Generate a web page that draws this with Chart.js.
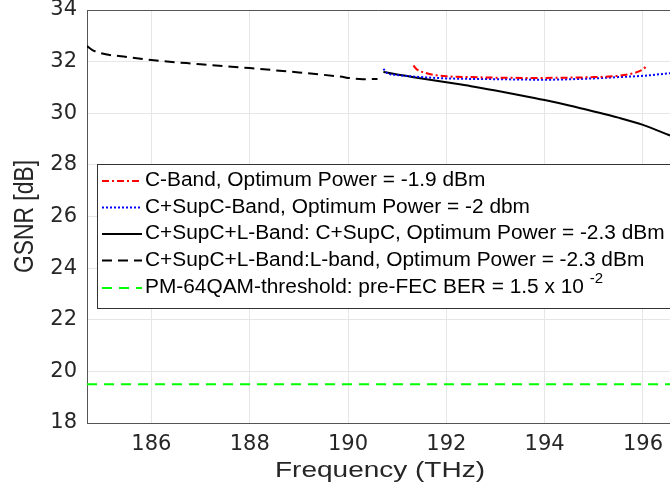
<!DOCTYPE html>
<html>
<head>
<meta charset="utf-8">
<script src="https://cdn.jsdelivr.net/npm/chart.js@4.4.1/dist/chart.umd.min.js"></script>
<style>
  html, body { margin: 0; padding: 0; background: #fff; }
  #wrap { width: 670px; height: 491px; overflow: hidden; }
</style>
</head>
<body>
<div id="wrap"><canvas id="gsnrChart" width="670" height="491"></canvas></div>
<script>
// tick values
const xTicks = [186, 188, 190, 192, 194, 196];
const yTicks = [18, 20, 22, 24, 26, 28, 30, 32, 34];

// C-Band, optimum power -1.9 dBm
const cBandFreq = [191.33, 191.4, 191.6, 191.8, 192.0, 192.5, 193.0, 193.5, 194.0, 194.5, 195.0, 195.5, 195.8, 196.0, 196.08];
const cBandGsnr = [31.85, 31.7, 31.55, 31.47, 31.43, 31.4, 31.38, 31.37, 31.37, 31.38, 31.4, 31.45, 31.55, 31.7, 31.85];

// C+SupC-Band, optimum power -2 dBm
const supCFreq = [190.72, 190.8, 191.0, 191.5, 192.0, 193.0, 194.0, 195.0, 195.5, 196.0, 196.55];
const supCGsnr = [31.72, 31.55, 31.48, 31.4, 31.35, 31.32, 31.3, 31.35, 31.4, 31.45, 31.55];

// C+SupC+L-Band, C+SupC part
const cslCFreq = [190.72, 191.0, 191.5, 192.0, 192.5, 193.0, 193.5, 194.0, 194.5, 195.0, 195.5, 196.0, 196.55];
const cslCGsnr = [31.6, 31.5, 31.35, 31.2, 31.05, 30.88, 30.7, 30.51, 30.3, 30.07, 29.83, 29.55, 29.14];

// C+SupC+L-Band, L-band part
const cslLFreq = [184.69, 184.8, 184.96, 185.5, 186.0, 187.0, 188.0, 189.0, 189.75, 190.3, 190.6];
const cslLGsnr = [32.6, 32.45, 32.33, 32.18, 32.06, 31.9, 31.75, 31.58, 31.44, 31.32, 31.33];

// pre-FEC threshold
const threshFreq = [184.69, 196.55];
const threshGsnr = [19.5, 19.5];

const legendLabels = [
    'C-Band, Optimum Power = -1.9 dBm',
    'C+SupC-Band, Optimum Power = -2 dbm',
    'C+SupC+L-Band: C+SupC, Optimum Power = -2.3 dBm',
    'C+SupC+L-Band:L-band, Optimum Power = -2.3 dBm',
    'PM-64QAM-threshold: pre-FEC BER = 1.5 x 10 '
];
const xTitle = 'Frequency (THz)';
const yTitle = 'GSNR [dB]';

const toPoints = (xs, ys) => xs.map((x, i) => ({ x: x, y: ys[i] }));

const FONT = '"Liberation Sans", Arial, Helvetica, sans-serif';
const TICK_FONT = '"DejaVu Sans", sans-serif';

const series = [
    { data: toPoints(cBandFreq, cBandGsnr), color: '#ff0000', dash: [7, 3, 2, 3] },
    { data: toPoints(supCFreq, supCGsnr), color: '#0000ff', dash: [2, 2] },
    { data: toPoints(cslCFreq, cslCGsnr), color: '#000000', dash: [] },
    { data: toPoints(cslLFreq, cslLGsnr), color: '#000000', dash: [10, 6] },
    { data: toPoints(threshFreq, threshGsnr), color: '#00ff00', dash: [10, 7] }
];

// text stretched horizontally to a target width
const drawWideText = (ctx, text, x, y, width) => {
    const sx = width / ctx.measureText(text).width;
    ctx.save();
    ctx.translate(x, y);
    ctx.scale(sx, 1);
    ctx.fillText(text, 0, 0);
    ctx.restore();
    return width;
};

// no extra room for the first/last tick labels, the axes box is fixed
const noScalePadding = scale => {
    scale.paddingTop = 0;
    scale.paddingBottom = 0;
    scale.paddingLeft = 0;
    scale.paddingRight = 0;
};

// MATLAB style legend box, axis titles and top border of the axes
const legendBox = {
    id: 'legendBox',
    afterDatasetsDraw(chart) {
        const ctx = chart.ctx;
        const area = chart.chartArea;
        ctx.save();
        ctx.strokeStyle = '#555';
        ctx.lineWidth = 1;
        ctx.beginPath();
        ctx.moveTo(area.left, Math.round(area.top) + 0.5);
        ctx.lineTo(area.right, Math.round(area.top) + 0.5);
        ctx.stroke();

        ctx.fillStyle = '#fff';
        ctx.fillRect(97.5, 164.5, 600, 144);
        ctx.strokeStyle = '#333';
        ctx.strokeRect(97.5, 164.5, 600, 144);

        const rows = [181, 207.5, 234, 260.5, 288];
        ctx.font = '19.5px ' + FONT;
        ctx.textBaseline = 'middle';
        ctx.textAlign = 'left';
        let lastEnd = 0;
        series.forEach((s, i) => {
            ctx.strokeStyle = s.color;
            ctx.lineWidth = 2;
            ctx.setLineDash(s.dash);
            ctx.beginPath();
            ctx.moveTo(102, rows[i]);
            ctx.lineTo(142, rows[i]);
            ctx.stroke();
            ctx.setLineDash([]);
            ctx.fillStyle = '#000';
            const w = ctx.measureText(legendLabels[i]).width * 1.07;
            drawWideText(ctx, legendLabels[i], 145, rows[i], w);
            lastEnd = 145 + w;
        });
        // superscript exponent
        ctx.font = '14px ' + FONT;
        drawWideText(ctx, '-2', lastEnd, rows[4] - 9, ctx.measureText('-2').width * 1.07);

        // axis titles
        ctx.fillStyle = '#262626';
        ctx.font = '22px ' + FONT;
        ctx.textAlign = 'center';
        drawWideText(ctx, xTitle, 380, 471, 210);

        ctx.font = '22px ' + FONT;
        ctx.translate(25, (area.top + area.bottom) / 2);
        ctx.rotate(-Math.PI / 2);
        ctx.scale(1, 1.25);
        drawWideText(ctx, yTitle, 0, 0, 113);
        ctx.restore();
    }
};

new Chart(document.getElementById('gsnrChart'), {
    type: 'line',
    data: {
        datasets: series.map((s, i) => ({
            label: legendLabels[i],
            data: s.data,
            borderColor: s.color,
            borderWidth: 2,
            borderDash: s.dash,
            pointRadius: 0,
            fill: false,
            cubicInterpolationMode: 'monotone'
        }))
    },
    options: {
        responsive: false,
        animation: false,
        layout: { autoPadding: false, padding: { top: 10, right: 0, left: 0, bottom: 0 } },
        plugins: {
            legend: { display: false },
            tooltip: { enabled: false }
        },
        scales: {
            x: {
                type: 'linear',
                min: 184.69,
                max: 196.55,
                afterBuildTicks: scale => { scale.ticks = xTicks.map(v => ({ value: v })); },
                afterFit: scale => { scale.height = 68; noScalePadding(scale); },
                grid: { color: '#e6e6e6', drawTicks: false },
                border: { color: '#555' },
                ticks: { color: '#262626', font: { family: TICK_FONT, size: 21 }, padding: 9, maxRotation: 0 }
            },
            y: {
                min: 18,
                max: 34,
                afterBuildTicks: scale => { scale.ticks = yTicks.map(v => ({ value: v })); },
                afterFit: scale => { scale.width = 87; noScalePadding(scale); },
                grid: { color: '#e6e6e6', drawTicks: false },
                border: { color: '#555' },
                ticks: { color: '#262626', font: { family: TICK_FONT, size: 21 }, padding: 10 }
            }
        }
    },
    plugins: [legendBox]
});
</script>
</body>
</html>
